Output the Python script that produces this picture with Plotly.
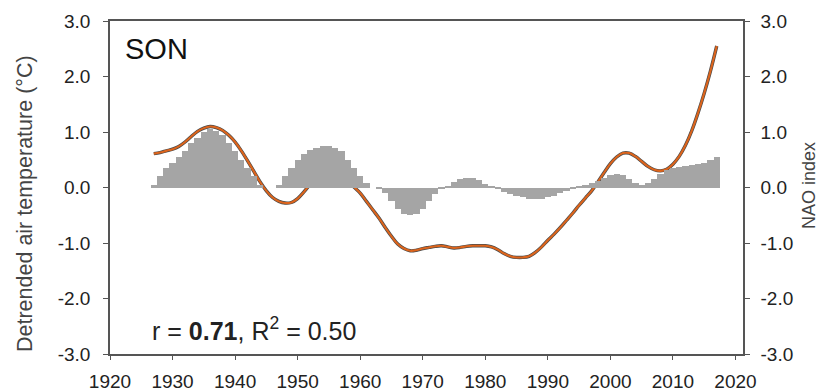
import plotly.graph_objects as go

# --- data ---
temp_years = list(range(1927, 2018))
temp_values = [
    0.61, 0.63, 0.66, 0.69, 0.74, 0.82, 0.92, 1.01, 1.07, 1.10,   # 1927-1936
    1.08, 1.03, 0.94, 0.82, 0.66, 0.48, 0.29, 0.10, -0.06, -0.18,  # 1937-1946
    -0.25, -0.28, -0.27, -0.20, -0.08, 0.06, 0.19, 0.29, 0.34, 0.32,  # 1947-1956
    0.24, 0.12, 0.01, -0.10, -0.25, -0.40, -0.55, -0.72, -0.88, -1.02,  # 1957-1966
    -1.10, -1.14, -1.13, -1.10, -1.08, -1.06, -1.05, -1.07, -1.09, -1.08,  # 1967-1976
    -1.06, -1.05, -1.05, -1.05, -1.07, -1.12, -1.19, -1.24, -1.26, -1.26,  # 1977-1986
    -1.24, -1.17, -1.07, -0.95, -0.84, -0.72, -0.59, -0.46, -0.32, -0.19,  # 1987-1996
    -0.06, 0.10, 0.27, 0.43, 0.55, 0.62, 0.62, 0.56, 0.47, 0.38,   # 1997-2006
    0.32, 0.30, 0.33, 0.42, 0.56, 0.76, 1.02, 1.34, 1.70, 2.10,   # 2007-2016
    2.55,                                                          # 2017
]

nao_years = list(range(1926, 2018))
nao_values = [
    0.00, 0.05, 0.20, 0.35, 0.45, 0.55, 0.65, 0.80, 0.90, 1.00,   # 1926-1935
    1.05, 1.02, 0.95, 0.80, 0.65, 0.50, 0.35, 0.20, 0.05, 0.00,   # 1936-1945
    0.00, 0.05, 0.20, 0.35, 0.50, 0.60, 0.68, 0.72, 0.75, 0.75,   # 1946-1955
    0.72, 0.65, 0.50, 0.35, 0.20, 0.08, 0.00, -0.02, -0.10, -0.25,  # 1956-1965
    -0.38, -0.47, -0.50, -0.47, -0.38, -0.25, -0.12, -0.03, 0.03, 0.10,  # 1966-1975
    0.15, 0.18, 0.17, 0.13, 0.07, 0.02, -0.03, -0.08, -0.12, -0.15,  # 1976-1985
    -0.18, -0.20, -0.20, -0.20, -0.18, -0.15, -0.10, -0.06, -0.02, 0.02,  # 1986-1995
    0.05, 0.08, 0.12, 0.17, 0.22, 0.25, 0.22, 0.15, 0.08, 0.05,   # 1996-2005
    0.08, 0.15, 0.25, 0.32, 0.35, 0.37, 0.38, 0.40, 0.42, 0.45,   # 2006-2015
    0.50, 0.55,                                                    # 2016-2017
]

x_ticks = [1920, 1930, 1940, 1950, 1960, 1970, 1980, 1990, 2000, 2010, 2020]
y_ticks = [3.0, 2.0, 1.0, 0.0, -1.0, -2.0, -3.0]
y_tick_labels = ["3.0", "2.0", "1.0", "0.0", "-1.0", "-2.0", "-3.0"]

# --- figure ---
FONT = "Liberation Sans, Arial, sans-serif"
TXT = "#222222"
AX = "#555555"
L, R, T, B = 110, 743, 21, 354  # plot area in pixels
PW, PH = R - L, B - T

fig = go.Figure()

fig.add_trace(go.Bar(
    x=nao_years, y=nao_values, width=1.0, yaxis="y2",
    marker=dict(color="#a5a5a5", line=dict(width=0)),
    name="NAO index", showlegend=False,
))
fig.add_trace(go.Scatter(
    x=temp_years, y=temp_values, mode="lines", line=dict(color="#4a4a4a", width=3.4, shape="spline"),
    name="shadow", showlegend=False, hoverinfo="skip",
))
fig.add_trace(go.Scatter(
    x=temp_years, y=temp_values, mode="lines", line=dict(color="#dc641c", width=2.1, shape="spline"),
    name="Detrended air temperature", showlegend=False,
))

fig.update_layout(
    template="none",
    width=821, height=392,
    margin=dict(l=L, r=821 - R, t=T, b=392 - B, autoexpand=False),
    paper_bgcolor="white", plot_bgcolor="white",
    bargap=0,
    font=dict(family=FONT, size=19, color=TXT),
    xaxis=dict(
        range=[1920, 2021.2], tickvals=x_ticks, ticktext=[str(v) for v in x_ticks],
        showgrid=False, zeroline=False, showline=True, linecolor=AX, linewidth=1.5,
        mirror=True, ticks="outside", ticklen=4, tickcolor=AX, tickwidth=1,
        tickfont=dict(size=19, color=TXT), automargin=False, ticklabelstandoff=5,
    ),
    yaxis=dict(
        range=[-3, 3], tickvals=y_ticks, ticktext=y_tick_labels,
        showgrid=False, zeroline=False, showline=True, linecolor=AX, linewidth=1.5,
        ticks="outside", ticklen=5, tickcolor=AX, tickwidth=1,
        tickfont=dict(size=19, color=TXT), automargin=False, ticklabelstandoff=9,
    ),
    yaxis2=dict(
        range=[-3, 3], tickvals=y_ticks, ticktext=y_tick_labels,
        overlaying="y", side="right",
        showgrid=False, zeroline=False, showline=True, linecolor=AX, linewidth=1.5,
        ticks="outside", ticklen=5, tickcolor=AX, tickwidth=1,
        tickfont=dict(size=19, color=TXT), automargin=False, ticklabelstandoff=7,
    ),
    annotations=[
        dict(text="SON", xref="paper", yref="paper", x=(123 - L) / PW, y=(B - 49) / PH,
             xanchor="left", yanchor="middle", showarrow=False,
             font=dict(family=FONT, size=29, color="#111111")),
        dict(text="r = <b>0.71</b>, R<sup>2</sup> = 0.50", xref="paper", yref="paper",
             x=(254 - L) / PW, y=(B - 329) / PH, xanchor="center", yanchor="middle",
             showarrow=False, font=dict(family=FONT, size=25, color="#222222")),
        dict(text="Detrended air temperature (°C)", xref="paper", yref="paper",
             x=(25 - L) / PW, y=(B - 204) / PH, xanchor="center", yanchor="middle",
             textangle=-90, showarrow=False, font=dict(family=FONT, size=21.5, color="#444444")),
        dict(text="NAO index", xref="paper", yref="paper",
             x=(821 - L) / PW, y=(B - 186) / PH, xanchor="right", yanchor="middle",
             textangle=-90, showarrow=False, font=dict(family=FONT, size=18, color="#444444")),
    ],
)

fig.write_html("out.html")
